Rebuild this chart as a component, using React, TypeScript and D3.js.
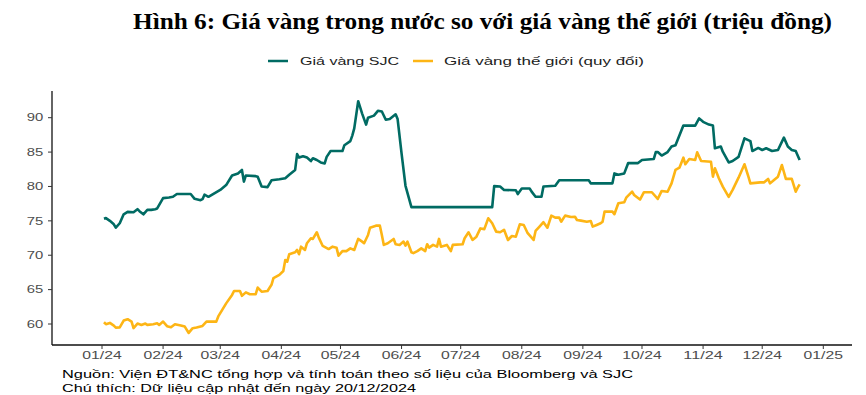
import * as d3 from "d3";

// SJC domestic gold price (million VND / tael), daily, 2024
const sjcDates = [
  "2024-01-02", "2024-01-03", "2024-01-05", "2024-01-07", "2024-01-08", "2024-01-10", "2024-01-12", "2024-01-14",
  "2024-01-17", "2024-01-19", "2024-01-20", "2024-01-22", "2024-01-24", "2024-01-26", "2024-01-28", "2024-01-29",
  "2024-02-01", "2024-02-04", "2024-02-06", "2024-02-08", "2024-02-15", "2024-02-17", "2024-02-20", "2024-02-21",
  "2024-02-22", "2024-02-24", "2024-02-27",
  "2024-03-01", "2024-03-04", "2024-03-07", "2024-03-10", "2024-03-12", "2024-03-13", "2024-03-14", "2024-03-19",
  "2024-03-20", "2024-03-22", "2024-03-25", "2024-03-27", "2024-03-31",
  "2024-04-03", "2024-04-05", "2024-04-08", "2024-04-09", "2024-04-10", "2024-04-12", "2024-04-14", "2024-04-16",
  "2024-04-17", "2024-04-19", "2024-04-21", "2024-04-23", "2024-04-24", "2024-04-26",
  "2024-05-02", "2024-05-03", "2024-05-06", "2024-05-07", "2024-05-08", "2024-05-10", "2024-05-12", "2024-05-14",
  "2024-05-15", "2024-05-18", "2024-05-20", "2024-05-22", "2024-05-24", "2024-05-26", "2024-05-29", "2024-05-30",
  "2024-06-01", "2024-06-03", "2024-06-06",
  "2024-07-17", "2024-07-18", "2024-07-21", "2024-07-23", "2024-07-29", "2024-07-30",
  "2024-08-01", "2024-08-05", "2024-08-06", "2024-08-08", "2024-08-11", "2024-08-12", "2024-08-18", "2024-08-20",
  "2024-09-04", "2024-09-05", "2024-09-16", "2024-09-17", "2024-09-19", "2024-09-22", "2024-09-24", "2024-09-29",
  "2024-10-01", "2024-10-07", "2024-10-08", "2024-10-09", "2024-10-11", "2024-10-14", "2024-10-16", "2024-10-18",
  "2024-10-22", "2024-10-28", "2024-10-30",
  "2024-11-01", "2024-11-04", "2024-11-06", "2024-11-07", "2024-11-10", "2024-11-11", "2024-11-14", "2024-11-16",
  "2024-11-19", "2024-11-22", "2024-11-25", "2024-11-26", "2024-11-29",
  "2024-12-01", "2024-12-03", "2024-12-06", "2024-12-09", "2024-12-12", "2024-12-14", "2024-12-16", "2024-12-18",
  "2024-12-20",
];
const sjcValues = [
  75.3, 75.4, 75.0, 74.5, 74.0, 74.65, 75.95, 76.3, 76.25, 76.7, 76.4, 75.95, 76.6, 76.6, 76.7, 76.8,
  78.3, 78.4, 78.5, 78.9, 78.9, 78.2, 78.0, 78.15, 78.8, 78.5, 79.0,
  79.5, 80.2, 81.6, 81.9, 82.4, 80.7, 81.6, 81.5, 81.4, 80.0, 79.9, 80.9, 81.05,
  81.2, 81.7, 82.4, 84.7, 84.2, 84.4, 84.2, 83.7, 84.1, 83.85, 83.5, 83.35, 84.3, 85.15,
  85.15, 86.0, 86.6, 87.4, 88.45, 92.4, 90.6, 89.0, 90.0, 90.3, 91.0, 90.9, 89.7, 89.8, 90.5, 89.8,
  84.8, 80.1, 77.0,
  77.0, 80.05, 80.0, 79.5, 79.45, 78.9,
  79.7, 79.7, 79.25, 78.5, 78.5, 80.0, 80.1, 80.9,
  80.9, 80.45, 80.45, 81.9, 81.7, 81.9, 83.4, 83.4,
  83.85, 84.0, 85.0, 85.0, 84.5, 85.0, 85.8, 86.0, 88.85, 88.85, 89.9,
  89.4, 89.0, 88.85, 85.55, 85.8, 85.05, 83.5, 83.7, 84.3, 87.0, 86.6, 85.15, 85.6,
  85.3, 85.55, 85.15, 85.3, 87.1, 85.8, 85.3, 85.15, 83.85,
];

// world gold price converted to VND (million / tael)
const worldDates = [
  "2024-01-02", "2024-01-03", "2024-01-05", "2024-01-07", "2024-01-08", "2024-01-10", "2024-01-12", "2024-01-14",
  "2024-01-16", "2024-01-17", "2024-01-19", "2024-01-21", "2024-01-23", "2024-01-24", "2024-01-27", "2024-01-29",
  "2024-01-30",
  "2024-02-01", "2024-02-03", "2024-02-05", "2024-02-07", "2024-02-10", "2024-02-12", "2024-02-14", "2024-02-16",
  "2024-02-18", "2024-02-21", "2024-02-23", "2024-02-28", "2024-02-29",
  "2024-03-02", "2024-03-04", "2024-03-07", "2024-03-08", "2024-03-11", "2024-03-12", "2024-03-14", "2024-03-16",
  "2024-03-19", "2024-03-20", "2024-03-22", "2024-03-25", "2024-03-27", "2024-03-28", "2024-03-31",
  "2024-04-02", "2024-04-03", "2024-04-04", "2024-04-05", "2024-04-08", "2024-04-09", "2024-04-10", "2024-04-11",
  "2024-04-13", "2024-04-14", "2024-04-16", "2024-04-17", "2024-04-19", "2024-04-20", "2024-04-22", "2024-04-25",
  "2024-04-27", "2024-04-29", "2024-04-30",
  "2024-05-02", "2024-05-04", "2024-05-06", "2024-05-08", "2024-05-10", "2024-05-12", "2024-05-13", "2024-05-15",
  "2024-05-16", "2024-05-19", "2024-05-21", "2024-05-22", "2024-05-23", "2024-05-25", "2024-05-28", "2024-05-29",
  "2024-05-31",
  "2024-06-02", "2024-06-03", "2024-06-04", "2024-06-06", "2024-06-07", "2024-06-09", "2024-06-11", "2024-06-13",
  "2024-06-14", "2024-06-15", "2024-06-17", "2024-06-19", "2024-06-20", "2024-06-21", "2024-06-24", "2024-06-26",
  "2024-06-27",
  "2024-07-02", "2024-07-03", "2024-07-05", "2024-07-07", "2024-07-09", "2024-07-11", "2024-07-13", "2024-07-15",
  "2024-07-17", "2024-07-19", "2024-07-21", "2024-07-23", "2024-07-25", "2024-07-27", "2024-07-29", "2024-07-31",
  "2024-08-02", "2024-08-04", "2024-08-07", "2024-08-08", "2024-08-10", "2024-08-12", "2024-08-14", "2024-08-16",
  "2024-08-18", "2024-08-20", "2024-08-21", "2024-08-23", "2024-08-26", "2024-08-28", "2024-08-29", "2024-08-31",
  "2024-09-03", "2024-09-05", "2024-09-06", "2024-09-08", "2024-09-10", "2024-09-11", "2024-09-12", "2024-09-16",
  "2024-09-17", "2024-09-19", "2024-09-22", "2024-09-23", "2024-09-26", "2024-09-27", "2024-09-30",
  "2024-10-02", "2024-10-06", "2024-10-09", "2024-10-11", "2024-10-14", "2024-10-16", "2024-10-18", "2024-10-20",
  "2024-10-22", "2024-10-23", "2024-10-25", "2024-10-28", "2024-10-29", "2024-10-31",
  "2024-11-05", "2024-11-06", "2024-11-07", "2024-11-09", "2024-11-11", "2024-11-14", "2024-11-16", "2024-11-19",
  "2024-11-22", "2024-11-24", "2024-11-25", "2024-11-30",
  "2024-12-02", "2024-12-04", "2024-12-05", "2024-12-07", "2024-12-09", "2024-12-11", "2024-12-13", "2024-12-16",
  "2024-12-18", "2024-12-19", "2024-12-20",
];
const worldValues = [
  60.26, 59.97, 60.16, 59.77, 59.48, 59.5, 60.5, 60.7, 60.35, 59.4, 60.06, 59.87, 60.06, 59.87, 59.97, 60.1, 59.87,
  60.35, 59.68, 59.53, 59.97, 59.77, 59.62, 58.7, 59.39, 59.48, 59.72, 60.35, 60.35, 61.1,
  62.05, 63.0, 64.23, 64.8, 64.8, 64.1, 64.6, 64.33, 64.33, 65.3, 64.7, 64.8, 65.7, 66.66, 67.14,
  67.7, 69.3, 69.07, 70.14, 70.43, 70.77, 70.14, 71.25, 70.77, 71.75, 72.47, 72.37, 73.34, 72.56, 71.35, 70.9,
  71.25, 71.1, 69.94,
  70.6, 70.6, 71.0, 70.77, 72.37, 71.98, 71.75, 72.95, 74.0, 74.3, 74.3, 72.95, 71.5, 71.75, 72.37, 71.6, 71.5,
  71.98, 71.4, 71.98, 70.43, 70.3, 70.6, 71.0, 70.6, 71.6, 71.1, 71.5, 71.25, 72.37, 71.25, 71.5, 70.6, 71.5,
  71.6, 72.47, 73.34, 72.22, 72.7, 73.9, 73.8, 75.38, 74.65, 73.43, 73.34, 73.7, 72.22, 72.8, 72.7, 74.5,
  74.4, 73.2, 72.22, 73.53, 74.16, 74.8, 74.0, 75.76, 75.47, 75.47, 74.88, 75.76, 75.57, 75.6, 75.13, 75.03,
  74.88, 74.98, 74.16, 74.4, 74.65, 74.88, 76.34, 76.34, 75.96, 77.56, 77.7, 78.37, 79.24, 78.76, 78.1,
  79.16, 79.16, 78.18, 79.35, 79.24, 80.45, 82.4, 82.73, 84.19, 83.23, 84.0, 83.85, 84.97, 83.7,
  83.6, 81.42, 82.64, 81.2, 79.97, 78.5, 79.5, 81.28, 83.23, 81.42, 80.45, 80.6,
  80.6, 81.1, 80.45, 80.94, 81.42, 83.12, 81.1, 81.1, 79.24, 79.82, 80.3,
];

const yTicks = [60, 65, 70, 75, 80, 85, 90];
const seriesNames = ["Giá vàng SJC", "Giá vàng thế giới (quy đổi)"];
const seriesColors = ["#006b63", "#fdb515"];
const title = "Hình 6: Giá vàng trong nước so với giá vàng thế giới (triệu đồng)";
const notes = [
  "Nguồn: Viện ĐT&NC tổng hợp và tính toán theo số liệu của Bloomberg và SJC",
  "Chú thích: Dữ liệu cập nhật đến ngày 20/12/2024",
];

const W = 866;
const H = 395;
const left = 52;
const right = 852;
const top = 91;
const bottom = 345;
const SANS = "'Liberation Sans', Arial, sans-serif";

const parse = d3.timeParse("%Y-%m-%d");

export default function App() {
  const x = d3
    .scaleTime()
    .domain([new Date(2024, 0, 1), new Date(2025, 0, 1)])
    .range([102, 823.3]);
  const y = d3.scaleLinear().domain([60, 90]).range([324, 117.7]);

  const sjc = sjcDates.map((d, i) => ({ date: parse(d) as Date, value: sjcValues[i] }));
  const world = worldDates.map((d, i) => ({ date: parse(d) as Date, value: worldValues[i] }));

  const line = d3
    .line<{ date: Date; value: number }>()
    .x((d) => x(d.date))
    .y((d) => y(d.value));

  const months = d3.timeMonth.range(new Date(2024, 0, 1), new Date(2025, 0, 2));
  const fmt = d3.timeFormat("%m/%y");

  return (
    <svg
      width={W}
      height={H}
      style={{ position: "absolute", left: 0, top: 0, background: "#fff" }}
    >
      <text
        x={133}
        y={29}
        fontFamily="'Liberation Serif', 'Times New Roman', serif"
        fontWeight="bold"
        fontSize={24}
        textLength={699}
        lengthAdjust="spacingAndGlyphs"
        fill="#000"
      >
        {title}
      </text>

      {/* legend */}
      <line x1={268} x2={288} y1={61} y2={61} stroke={seriesColors[0]} strokeWidth={2.5} />
      <text x={300} y={65} fontFamily={SANS} fontSize={11.5} textLength={99} lengthAdjust="spacingAndGlyphs" fill="#222">
        {seriesNames[0]}
      </text>
      <line x1={413} x2={433} y1={61} y2={61} stroke={seriesColors[1]} strokeWidth={2.5} />
      <text x={444} y={65} fontFamily={SANS} fontSize={11.5} textLength={200} lengthAdjust="spacingAndGlyphs" fill="#222">
        {seriesNames[1]}
      </text>

      {/* y axis */}
      <line x1={left} x2={left} y1={top} y2={bottom} stroke="#111" strokeWidth={1.3} />
      {yTicks.map((t) => (
        <g key={t}>
          <line x1={left - 4} x2={left} y1={y(t)} y2={y(t)} stroke="#333" strokeWidth={1} />
          <text
            x={43.3}
            y={y(t) + 3.7}
            textAnchor="end"
            fontFamily={SANS}
            fontSize={10.2}
            textLength={16.5}
            lengthAdjust="spacingAndGlyphs"
            fill="#4d4d4d"
          >
            {t}
          </text>
        </g>
      ))}

      {/* x axis */}
      <line x1={left} x2={right} y1={bottom} y2={bottom} stroke="#111" strokeWidth={1.3} />
      {months.map((m) => (
        <g key={m.getTime()}>
          <line x1={x(m)} x2={x(m)} y1={bottom} y2={bottom + 4} stroke="#333" strokeWidth={1} />
          <text
            x={x(m) - 19.7}
            y={359}
            fontFamily={SANS}
            fontSize={10.2}
            textLength={39.4}
            lengthAdjust="spacingAndGlyphs"
            fill="#4d4d4d"
          >
            {fmt(m)}
          </text>
        </g>
      ))}

      <path d={line(world) ?? ""} fill="none" stroke={seriesColors[1]} strokeWidth={2.6} strokeLinejoin="round" />
      <path d={line(sjc) ?? ""} fill="none" stroke={seriesColors[0]} strokeWidth={2.6} strokeLinejoin="round" />

      {/* notes */}
      <text x={62} y={377.5} fontFamily={SANS} fontSize={11.6} textLength={571} lengthAdjust="spacingAndGlyphs" fill="#000">
        {notes[0]}
      </text>
      <text x={62} y={391.5} fontFamily={SANS} fontSize={11.6} textLength={354} lengthAdjust="spacingAndGlyphs" fill="#000">
        {notes[1]}
      </text>
    </svg>
  );
}
